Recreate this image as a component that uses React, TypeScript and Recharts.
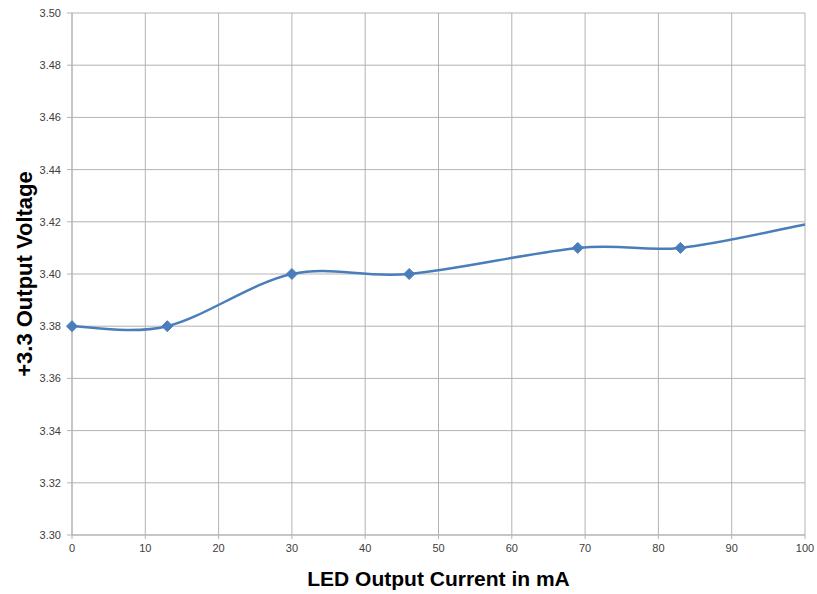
import React from 'react';
import {
  LineChart, Line, XAxis, YAxis, CartesianGrid, Label,
} from 'recharts';

// LED current (mA) vs +3.3 rail voltage
const currents = [0, 13, 30, 46, 69, 83, 100];
const voltages = [3.38, 3.38, 3.4, 3.4, 3.41, 3.41, 3.419];
// the last point is where the curve leaves the plot, it has no marker
const marked = [true, true, true, true, true, true, false];

const xTicks = [0, 10, 20, 30, 40, 50, 60, 70, 80, 90, 100];
const yTicks = [3.3, 3.32, 3.34, 3.36, 3.38, 3.4, 3.42, 3.44, 3.46, 3.48, 3.5];

const data = currents.map((c, i) => ({ current: c, voltage: voltages[i], marked: marked[i] }));

const FONT = '"Liberation Sans", Arial, sans-serif';
const BLUE = '#4a7ebb';
const GRID = '#b3b3b3';

// Excel-like smoothing: Catmull-Rom turned into cubic beziers
const excelSmooth = (context: any) => {
  let pts: [number, number][] = [];
  return {
    areaStart() {},
    areaEnd() {},
    lineStart() { pts = []; },
    lineEnd() {
      if (!pts.length) return;
      context.moveTo(pts[0][0], pts[0][1]);
      for (let i = 0; i < pts.length - 1; i++) {
        const p0 = pts[i - 1] ?? pts[i];
        const p1 = pts[i];
        const p2 = pts[i + 1];
        const p3 = pts[i + 2] ?? pts[i + 1];
        context.bezierCurveTo(
          p1[0] + (p2[0] - p0[0]) / 6, p1[1] + (p2[1] - p0[1]) / 6,
          p2[0] - (p3[0] - p1[0]) / 6, p2[1] - (p3[1] - p1[1]) / 6,
          p2[0], p2[1],
        );
      }
    },
    point(x: number, y: number) { pts.push([x, y]); },
  };
};

function Diamond(props: any) {
  const { cx, cy, payload, index } = props;
  if (!payload?.marked || cx == null || cy == null) return <g key={index} />;
  const s = 5.5;
  return (
    <path
      key={index}
      d={`M${cx},${cy - s}L${cx + s},${cy}L${cx},${cy + s}L${cx - s},${cy}Z`}
      fill={BLUE}
      stroke={BLUE}
      strokeWidth={1}
    />
  );
}

export default function App() {
  return (
    <div style={{ position: 'absolute', left: 0, top: 0, background: '#fff' }}>
      <LineChart
        width={817}
        height={594}
        data={data}
        margin={{ top: 13, right: 12, left: 0, bottom: 0 }}
      >
        <CartesianGrid stroke={GRID} strokeWidth={1} />
        <XAxis
          dataKey="current"
          type="number"
          domain={[0, 100]}
          ticks={xTicks}
          interval={0}
          height={59}
          stroke={GRID}
          tickSize={4}
          tickMargin={5}
          tick={{ fontSize: 11, fill: '#404040', fontFamily: FONT }}
        >
          <Label
            value="LED Output Current in mA"
            position="insideBottom"
            offset={8}
            style={{ fontSize: 21, fontWeight: 'bold', fill: '#000', fontFamily: FONT }}
          />
        </XAxis>
        <YAxis
          type="number"
          domain={[3.3, 3.5]}
          ticks={yTicks}
          interval={0}
          width={72}
          stroke={GRID}
          tickSize={5}
          tickMargin={6}
          tickFormatter={(v: number) => v.toFixed(2)}
          tick={{ fontSize: 11, fill: '#404040', fontFamily: FONT }}
        >
          <Label
            value="+3.3 Output Voltage"
            angle={-90}
            position="insideLeft"
            offset={24}
            style={{ textAnchor: 'middle', fontSize: 22, fontWeight: 'bold', fill: '#000', fontFamily: FONT }}
          />
        </YAxis>
        <Line
          dataKey="voltage"
          type={excelSmooth as any}
          stroke={BLUE}
          strokeWidth={2.5}
          dot={<Diamond />}
          activeDot={false}
          isAnimationActive={false}
        />
      </LineChart>
    </div>
  );
}
